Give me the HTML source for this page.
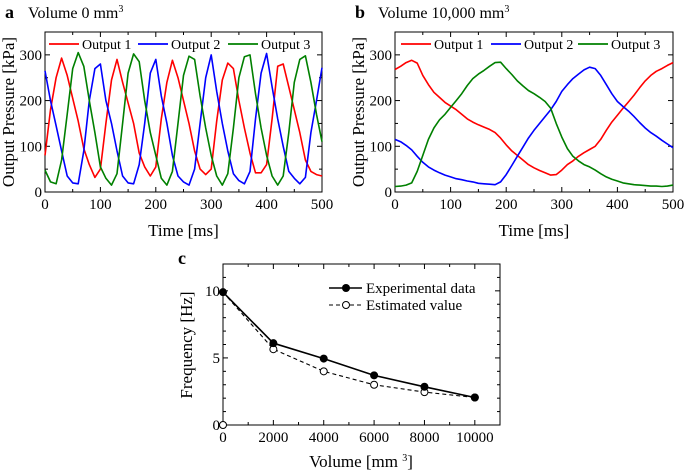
<!DOCTYPE html>
<html><head><meta charset="utf-8"><style>
body{margin:0;background:#fff}
svg{display:block;font-family:"Liberation Serif",serif}
</style></head><body>
<svg id="fig" width="685" height="472" viewBox="0 0 685 472"></svg>
<script>
const timeA=[0,10,20,30,40,50,60,70,80,90,100,110,120,130,140,150,160,170,180,190,200,210,220,230,240,250,260,270,280,290,300,310,320,330,340,350,360,370,380,390,400,410,420,430,440,450,460,470,480,490,500];
const redA=[80,180,250,293,255,205,155,95,60,32,50,150,245,290,240,195,150,85,55,35,55,160,240,288,250,200,150,90,50,38,50,155,245,282,270,200,140,85,42,42,60,160,275,280,230,180,130,70,45,38,35];
const blueA=[265,200,145,90,35,20,18,90,200,270,280,200,150,90,35,20,18,60,150,260,290,210,150,80,35,22,15,50,150,250,300,220,150,90,40,25,18,45,160,260,303,230,160,100,45,30,18,32,130,200,272];
const greenA=[48,22,18,70,170,270,305,275,200,130,55,30,15,40,150,260,302,285,200,130,80,30,15,45,150,255,297,290,210,140,80,35,15,40,140,250,296,300,215,140,80,35,15,35,130,240,290,298,240,170,110];
const redB=[268,275,283,288,282,255,235,218,207,196,188,180,170,160,153,147,142,137,130,118,103,90,80,70,60,53,47,42,37,38,48,60,68,78,86,93,100,115,135,153,168,183,197,212,228,243,255,264,270,277,283];
const blueB=[115,110,102,92,78,65,55,48,42,37,33,29,27,24,22,19,18,17,16,22,38,58,78,98,118,135,150,165,180,198,220,235,248,258,267,273,270,255,235,215,198,187,177,165,152,140,130,122,113,105,97];
const greenB=[12,13,15,20,45,80,115,140,158,170,185,200,215,233,248,258,266,275,283,284,270,257,243,232,222,215,207,198,183,150,120,95,78,68,60,55,48,40,33,28,24,20,18,16,15,14,13,13,12,13,15];
const volumes=[0,2000,4000,6000,8000,10000];
const expFreq=[9.9,6.1,4.95,3.7,2.85,2.05];
const estFreq=[0,5.65,4.0,3.0,2.45,2.05];
const ticksAx=[0,100,200,300,400,500];
const ticksAy=[0,100,200,300];
const ticksCx=[0,2000,4000,6000,8000,10000];
const ticksCy=[0,5,10];

const NS="http://www.w3.org/2000/svg";
const svg=document.getElementById('fig');
function el(tag,attrs,parent,text){const e=document.createElementNS(NS,tag);for(const k in attrs)e.setAttribute(k,attrs[k]);if(text!==undefined)e.textContent=text;(parent||svg).appendChild(e);return e;}

function axes(g,L,R,T,B,xmin,xmax,ymin,ymax,xt,yt,xminor,yminor,fs){
  const X=v=>L+(v-xmin)/(xmax-xmin)*(R-L);
  const Y=v=>B-(v-ymin)/(ymax-ymin)*(B-T);
  const r=el('rect',{x:L,y:T,width:R-L,height:B-T,fill:'none',stroke:'#000','stroke-width':1},g);
  
  for(let v=xmin;v<=xmax+1e-9;v+=xminor){const major=xt.some(t=>Math.abs(t-v)<1e-9);const len=major?5:3;
    el('line',{x1:X(v),x2:X(v),y1:B,y2:B-len,stroke:'#000'},g);el('line',{x1:X(v),x2:X(v),y1:T,y2:T+len,stroke:'#000'},g);}
  for(let v=ymin;v<=ymax+1e-9;v+=yminor){const major=yt.some(t=>Math.abs(t-v)<1e-9);const len=major?5:3;
    el('line',{x1:L,x2:L+len,y1:Y(v),y2:Y(v),stroke:'#000'},g);el('line',{x1:R,x2:R-len,y1:Y(v),y2:Y(v),stroke:'#000'},g);}
  xt.forEach(t=>{const tx=el('text',{x:X(t),y:B+17,'text-anchor':'middle','font-size':fs},g,String(t));
    });
  yt.forEach(t=>{const tx=el('text',{x:L-3,y:Y(t)+5,'text-anchor':'end','font-size':fs},g,String(t));
    });
  return {X,Y};
}
function line(g,xs,ys,ax,color,name,dash){
  const d=xs.map((x,i)=>(i?'L':'M')+ax.X(x).toFixed(1)+','+ax.Y(ys[i]).toFixed(1)).join('');
  const p=el('path',{d:d,fill:'none',stroke:color,'stroke-width':1.6,'stroke-linejoin':'round'},g);
  if(dash)p.setAttribute('stroke-dasharray',dash);
  return p;
}
function legendItem(g,x1,x2,y,color,label){
  const l=el('line',{x1:x1,x2:x2,y1:y,y2:y,stroke:color,'stroke-width':1.8},g);
  
  const t=el('text',{x:x2+3,y:y+5,'font-size':14},g,label);
  
}
function panel(name,L,R,letter,title,reds,blues,greens,legs){
  const g=el('g',{},svg);
  const ax=axes(g,L,R,32,192,0,500,0,350,ticksAx,ticksAy,50,50,15);
  line(g,timeA,reds,ax,'#ff0000','series-output-1');
  line(g,timeA,blues,ax,'#0000ff','series-output-2');
  line(g,timeA,greens,ax,'#008000','series-output-3');
  legendItem(g,legs[0],legs[0]+30,44,'#ff0000','Output 1');
  legendItem(g,legs[1],legs[1]+30,44,'#0000ff','Output 2');
  legendItem(g,legs[2],legs[2]+30,44,'#008000','Output 3');
  const lt=el('text',{x:L-40,y:18,'font-size':18,'font-weight':'bold'},g,letter);
  
  const tt=el('text',{x:L-17,y:18,'font-size':16},g);
  tt.innerHTML=title+' mm<tspan font-size="10" dy="-6">3</tspan>';
  const xt=el('text',{x:(L+R)/2,y:236,'text-anchor':'middle','font-size':17},g,'Time [ms]');
  
  const yt=el('text',{x:0,y:0,'text-anchor':'middle','font-size':17,transform:`translate(${L-31},112) rotate(-90)`},g,'Output Pressure [kPa]');
  
}
panel('panel-a',45,322,'a','Volume 0',redA,blueA,greenA,[49,138,228]);
panel('panel-b',395,673,'b','Volume 10,000',redB,blueB,greenB,[401,491,578]);

const gc=el('g',{},svg);
const axc=axes(gc,223,500,264,425,0,11000,0,12,ticksCx,ticksCy,1000,1,15);
line(gc,volumes,expFreq,axc,'#000','series-experimental');
line(gc,volumes,[expFreq[0]].concat(estFreq.slice(1)),axc,'#000','series-estimated','4,3').setAttribute('stroke-width',1.1);
volumes.forEach((v,i)=>{
  const c=el('circle',{cx:axc.X(v),cy:axc.Y(estFreq[i]),r:3.5,fill:'#fff',stroke:'#000','stroke-width':1},gc);
  
});
volumes.forEach((v,i)=>{
  const c=el('circle',{cx:axc.X(v),cy:axc.Y(expFreq[i]),r:4,fill:'#000'},gc);
  
});
el('line',{x1:329,x2:362,y1:288,y2:288,stroke:'#000','stroke-width':1.6},gc);
el('circle',{cx:346,cy:288,r:4,fill:'#000'},gc);
let t1=el('text',{x:366,y:293,'font-size':15},gc,'Experimental data');
el('line',{x1:329,x2:362,y1:305,y2:305,stroke:'#000','stroke-width':1.1,'stroke-dasharray':'4,3'},gc);
el('circle',{cx:346,cy:305,r:3.5,fill:'#fff',stroke:'#000'},gc);
let t2=el('text',{x:366,y:310,'font-size':15},gc,'Estimated value');
let lc=el('text',{x:178,y:264,'font-size':18,'font-weight':'bold'},gc,'c');
let xtc=el('text',{x:361,y:467,'text-anchor':'middle','font-size':17},gc);
xtc.innerHTML='Volume [mm <tspan font-size="10" dy="-6">3</tspan><tspan dy="6">]</tspan>';
let ytc=el('text',{x:0,y:0,'text-anchor':'middle','font-size':17,transform:'translate(192,345) rotate(-90)'},gc,'Frequency [Hz]');
</script>
</body></html>
